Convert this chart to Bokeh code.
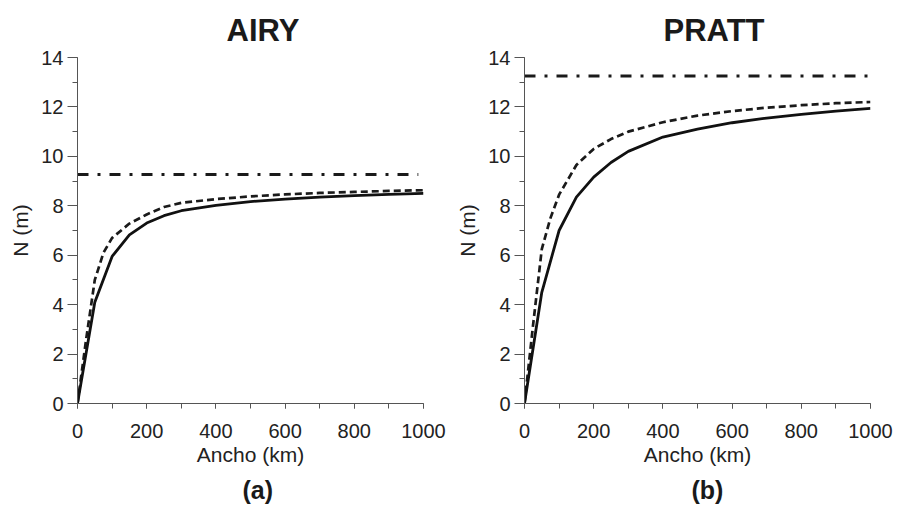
from bokeh.plotting import figure
from bokeh.layouts import row
from bokeh.models import Title, Range1d, SingleIntervalTicker
from bokeh.embed import file_html
from bokeh.resources import INLINE

# ---- data ----
ancho_km = [0, 50, 100, 150, 200, 250, 300, 400, 500, 600, 700, 800, 900, 1000]

airy_solid = [0, 4.10, 5.95, 6.82, 7.30, 7.60, 7.80, 8.02, 8.17, 8.27, 8.35, 8.41, 8.46, 8.50]
airy_dashed_x = [0, 25, 50, 75, 100, 150, 200, 250, 300, 400, 500, 600, 700, 800, 900, 1000]
airy_dashed = [0, 2.6, 5.0, 6.1, 6.7, 7.28, 7.65, 7.95, 8.12, 8.27, 8.38, 8.46, 8.52, 8.56, 8.60, 8.63]
airy_ref = 9.27

pratt_solid = [0, 4.50, 7.00, 8.35, 9.16, 9.75, 10.20, 10.78, 11.10, 11.36, 11.55, 11.70, 11.83, 11.94]
pratt_dashed_x = [0, 25, 50, 75, 100, 150, 200, 250, 300, 400, 500, 600, 700, 800, 900, 1000]
pratt_dashed = [0, 3.2, 6.25, 7.5, 8.45, 9.65, 10.3, 10.7, 11.0, 11.38, 11.65, 11.83, 11.97, 12.07, 12.15, 12.20]
pratt_ref = 13.25

airy_ref_x = [0, 985]
pratt_ref_x = [0, 992]

FONT = "Liberation Sans"


def panel(title, sub, solid, dx, dashed, ref, rx, top, title_offset, sub_offset):
    p = figure(frame_width=346, frame_height=346,
               x_range=Range1d(0, 1000), y_range=Range1d(0, 14),
               output_backend="svg", toolbar_location=None,
               min_border_left=77, min_border_right=25,
               min_border_top=top, min_border_bottom=162 - top,
               background_fill_color="white", border_fill_color="white")
    p.outline_line_color = None
    p.xgrid.visible = False
    p.ygrid.visible = False

    p.title.text = title
    p.title.align = "left"
    p.title.offset = title_offset
    p.title.standoff = 20
    p.title.text_font = FONT
    p.title.text_font_style = "bold"
    p.title.text_font_size = "31px"
    p.title.text_color = "#1a1a1a"

    p.line(rx, [ref, ref], line_color="#1a1a1a", line_width=3, line_dash="11 9 3 9")
    p.line(dx, dashed, line_color="#1a1a1a", line_width=2.7, line_dash="7 4")
    p.line(ancho_km, solid, line_color="#111111", line_width=2.8)

    p.xaxis.ticker = SingleIntervalTicker(interval=200, num_minor_ticks=2)
    p.yaxis.ticker = SingleIntervalTicker(interval=2, num_minor_ticks=2)
    p.xaxis.axis_label = "Ancho (km)"
    p.yaxis.axis_label = "N (m)"

    for ax in (p.xaxis[0], p.yaxis[0]):
        ax.axis_line_color = "#555555"
        ax.major_tick_line_color = "#555555"
        ax.minor_tick_line_color = "#555555"
        ax.major_tick_in = 0
        ax.minor_tick_in = 0
        ax.minor_tick_out = 5
        ax.major_label_text_font = FONT
        ax.major_label_text_font_size = "20px"
        ax.major_label_text_color = "#222222"
        ax.axis_label_text_font = FONT
        ax.axis_label_text_font_size = "21px"
        ax.axis_label_text_font_style = "normal"
        ax.axis_label_text_color = "#222222"
    p.xaxis.major_tick_out = 5
    p.xaxis.major_label_standoff = 15
    p.xaxis.axis_label_standoff = 2
    p.yaxis.major_tick_out = 10
    p.yaxis.major_label_standoff = 4
    p.yaxis.axis_label_standoff = 6

    p.add_layout(Title(text=sub, align="left", offset=sub_offset, standoff=11,
                       text_font=FONT, text_font_style="bold",
                       text_font_size="25px", text_color="#1a1a1a"), "below")
    return p


p1 = panel("AIRY", "(a)", airy_solid, airy_dashed_x, airy_dashed, airy_ref, airy_ref_x,
           56, 149, 165)
p2 = panel("PRATT", "(b)", pratt_solid, pratt_dashed_x, pratt_dashed, pratt_ref, pratt_ref_x,
           57, 139, 167)
p2.min_border_left = 76
p2.min_border_right = 27

layout = row(p1, p2, spacing=0)
open("out.html", "w").write(file_html(layout, INLINE))
